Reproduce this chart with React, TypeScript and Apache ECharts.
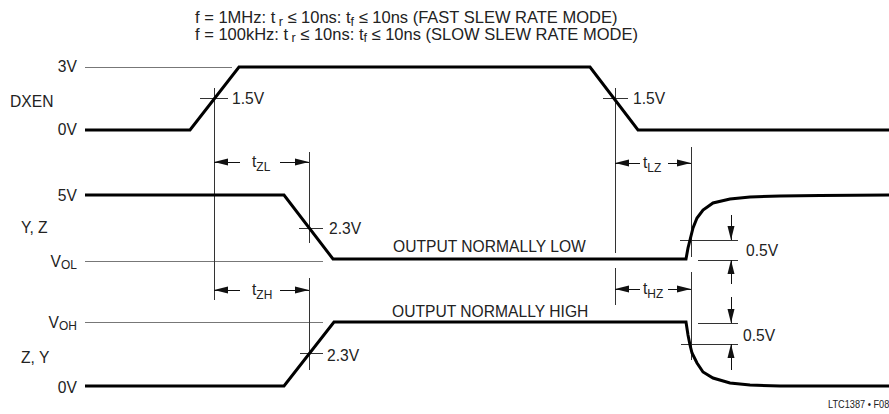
import React, { useEffect, useRef } from "react";
import * as echarts from "echarts";

const FONT = "'Liberation Sans', Arial, Helvetica, sans-serif";

// Waveforms: time position (horizontal units) and level position (vertical units, downwards)
const dxenT = [85, 190, 239, 590, 638, 889];
const dxenV = [130, 130, 67, 67, 130, 130];

const yzT = [85, 284, 333, 686, 688, 690, 693, 697, 703, 713, 730, 750, 780, 820, 889];
const yzV = [195, 195, 259, 259, 248, 240, 228, 218, 210, 203, 199, 197, 196, 195.5, 195];

const zyT = [85, 284, 334, 686, 688, 690, 692, 697, 703, 713, 730, 750, 780, 820, 889];
const zyV = [386, 386, 322, 322, 335, 345, 353, 363, 372, 378, 383, 385, 386, 386, 386];

// Reference (thin) lines: [x1, y1, x2, y2]
const refLines = [
  [85, 67, 232, 67],
  [85, 261, 323, 261],
  [85, 322, 323, 322],
];
const markerLines = [
  [214, 88, 214, 300],
  [309, 152, 309, 243],
  [309, 278, 309, 370],
  [615, 88, 615, 253],
  [615, 268, 615, 305],
  [691, 147, 691, 257],
  [691, 272, 691, 360],
  [200, 98, 228, 98],
  [603, 98, 628, 98],
  [299, 228, 323, 228],
  [300, 353, 323, 353],
  [680, 240, 738, 240],
  [698, 260, 738, 260],
  [698, 323, 738, 323],
  [681, 344, 738, 344],
];
// Arrows: [tailX, tailY, headX, headY]
const arrows = [
  [240, 162, 214, 162],
  [280, 162, 309, 162],
  [240, 290, 214, 290],
  [280, 290, 309, 290],
  [640, 163, 615, 163],
  [668, 163, 691, 163],
  [640, 289, 615, 289],
  [668, 289, 691, 289],
  [731, 215, 731, 240],
  [731, 284, 731, 260],
  [731, 297, 731, 323],
  [731, 370, 731, 344],
];

const zip = (a: number[], b: number[]) => a.map((v, i) => [v, b[i]]);

// subscript token is pushed down by drop px (padding-top = 2 * drop)
const rich = (big: number, small: number, L: number, drop: number) => ({
  n: { fontSize: big, fontFamily: FONT, fill: "#222", lineHeight: L },
  s: {
    fontSize: small,
    fontFamily: FONT,
    fill: "#222",
    lineHeight: 1,
    padding: [drop * 2, 0, 0, 0],
  },
});

function txt(
  x: number,
  y: number,
  text: string,
  align = "left",
  size = 17,
  sx = 0.92,
  L = 0,
  drop = 5.5
) {
  return {
    type: "text",
    x,
    y,
    scaleX: sx,
    silent: true,
    style: {
      text,
      fill: "#222",
      fontSize: size,
      fontFamily: FONT,
      textAlign: align,
      textVerticalAlign: "middle",
      ...(L ? { rich: rich(size, size - 4, L, drop) } : {}),
    },
  };
}

export default function App() {
  const ref = useRef<HTMLDivElement>(null);
  useEffect(() => {
    if (!ref.current) return;
    const chart = echarts.init(ref.current, undefined, { renderer: "svg" });
    const trace = (data: number[][]) => ({
      type: "line",
      data,
      symbol: "none",
      silent: true,
      lineStyle: { color: "#000", width: 3, join: "miter" },
      z: 5,
    });
    const seg = (l: number[], color: string) => [
      { coord: [l[0], l[1]], lineStyle: { color } },
      { coord: [l[2], l[3]] },
    ];
    const arrow = (l: number[]) => [
      { coord: [l[0], l[1]], symbol: "none", lineStyle: { color: "#111" } },
      { coord: [l[2], l[3]], symbol: "triangle", symbolSize: [7, 14], symbolOffset: [0, 7] },
    ];
    chart.setOption({
      animation: false,
      grid: { left: 0, right: 0, top: 0, bottom: 0 },
      xAxis: { type: "value", min: 0, max: 889, show: false },
      yAxis: { type: "value", min: 0, max: 414, inverse: true, show: false },
      series: [
        trace(zip(dxenT, dxenV)),
        trace(zip(yzT, yzV)),
        trace(zip(zyT, zyV)),
        {
          type: "line",
          data: [],
          silent: true,
          markLine: {
            silent: true,
            symbol: "none",
            label: { show: false },
            lineStyle: { type: "solid", width: 1, color: "#333" },
            data: [
              ...refLines.map((l) => seg(l, "#777")),
              ...markerLines.map((l) => seg(l, "#333")),
              ...arrows.map(arrow),
            ],
          },
        },
      ],
      graphic: [
        txt(
          195,
          25.5,
          "{n|f = 1MHz: t}{s| r}{n| ≤ 10ns: t}{s|f}{n| ≤ 10ns (FAST SLEW RATE MODE)}\n{n|f = 100kHz: t}{s| r}{n| ≤ 10ns: t}{s|f}{n| ≤ 10ns (SLOW SLEW RATE MODE)}",
          "left",
          16.5,
          1,
          16.5,
          4.5
        ),
        txt(77, 66, "3V", "right"),
        txt(10, 101, "DXEN"),
        txt(77, 129, "0V", "right"),
        txt(77, 195, "5V", "right"),
        txt(21, 227, "Y, Z"),
        txt(77, 261, "{n|V}{s|OL}", "right", 17, 0.92, 18, 4),
        txt(77, 322, "{n|V}{s|OH}", "right", 17, 0.92, 18, 4),
        txt(21, 357, "Z, Y"),
        txt(77, 387, "0V", "right"),
        txt(232, 98, "1.5V"),
        txt(633, 98, "1.5V"),
        txt(329, 228, "2.3V"),
        txt(327, 355, "2.3V"),
        txt(393, 246, "OUTPUT NORMALLY LOW"),
        txt(392, 311, "OUTPUT NORMALLY HIGH"),
        txt(746, 250, "0.5V"),
        txt(743, 335, "0.5V"),
        txt(252, 161, "{n|t}{s|ZL}", "left", 17, 0.92, 18, 5.5),
        txt(252, 289, "{n|t}{s|ZH}", "left", 17, 0.92, 18, 5.5),
        txt(643, 162, "{n|t}{s|LZ}", "left", 17, 0.92, 18, 5.5),
        txt(643, 288, "{n|t}{s|HZ}", "left", 17, 0.92, 18, 5.5),
        txt(828, 404, "LTC1387 • F08", "left", 10, 0.92),
      ],
    });
    return () => chart.dispose();
  }, []);
  return (
    <div
      ref={ref}
      style={{ position: "absolute", left: 0, top: 0, width: 889, height: 414, background: "#fff" }}
    />
  );
}
